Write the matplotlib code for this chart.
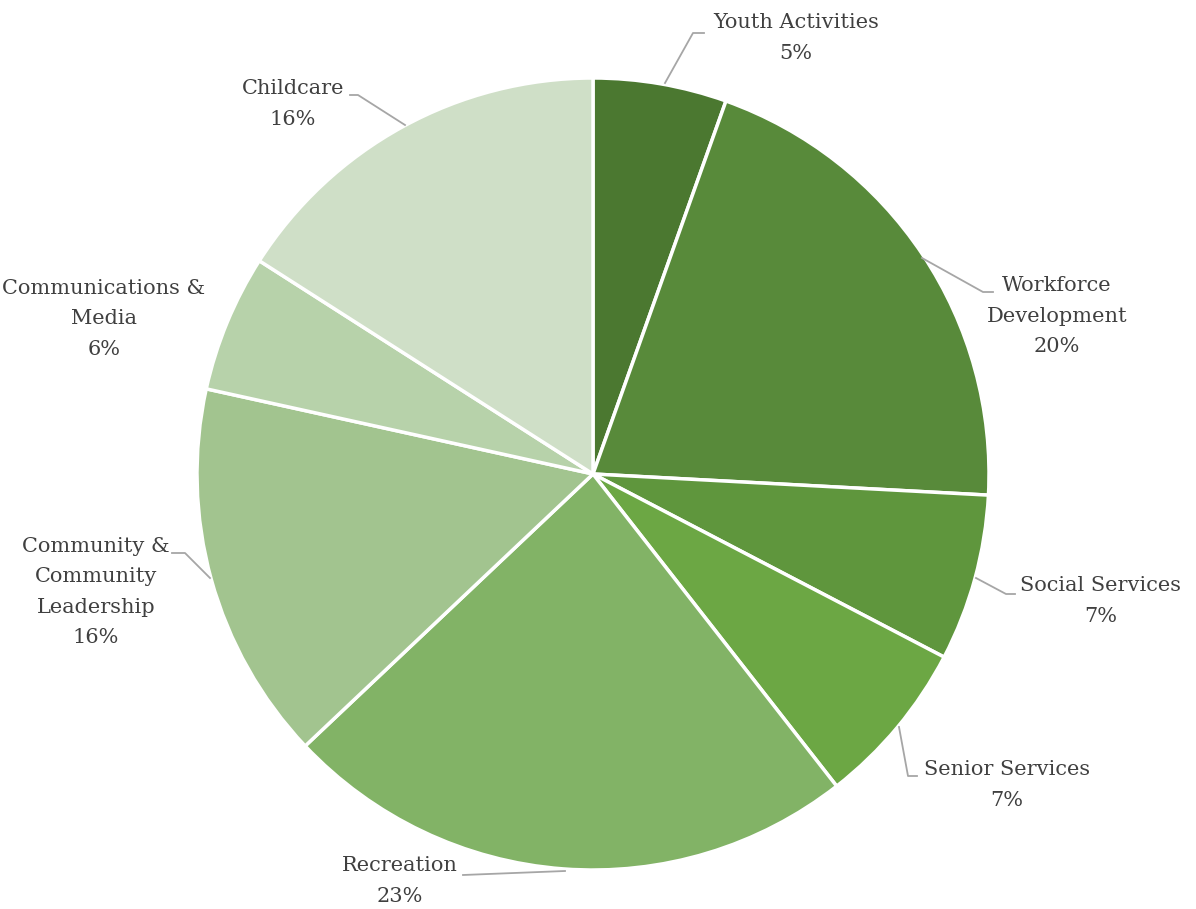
import matplotlib.pyplot as plt

# Data
categories = ["Youth Activities", "Workforce\nDevelopment", "Social Services",
              "Senior Services", "Recreation", "Community &\nCommunity\nLeadership",
              "Communications &\nMedia", "Childcare"]
shares = [5.45, 20.4, 6.8, 6.8, 23.5, 15.5, 5.6, 15.95]
pct_labels = ["5%", "20%", "7%", "7%", "23%", "16%", "6%", "16%"]

colors = ["#4b7830", "#588a3a", "#5f963d", "#6ca744", "#82b366",
          "#a2c48f", "#b7d2aa", "#cfdfc7"]

W, H = 1196, 909
cx, cy, R = 593, 474, 396

# label text centre (x, y in image pixels) and leader polyline (None = no leader)
label_pos = [(796, 38), (1057, 316), (1101, 601), (1007, 785), (400, 881),
             (96, 592), (104, 319), (293, 104)]
leaders = [
    [(665, 83), (693, 33), (704, 33)],
    [(922, 258), (983, 292), (993, 292)],
    [(976, 578), (1006, 594), (1015, 594)],
    [(899, 727), (908, 776), (917, 776)],
    [(565, 871), (463, 875)],
    [(210, 578), (185, 553), (172, 553)],
    None,
    [(405, 125), (358, 95), (350, 95)],
]

fig = plt.figure(figsize=(W / 100, H / 100), dpi=100)
ax = fig.add_axes([0, 0, 1, 1])

ax.pie(shares, colors=colors, startangle=90, counterclock=False,
       center=(cx, H - cy), radius=R,
       wedgeprops=dict(edgecolor="white", linewidth=2.5))
ax.set_xlim(0, W)
ax.set_ylim(0, H)
ax.axis("off")

for name, pct, (lx, ly), pts in zip(categories, pct_labels, label_pos, leaders):
    ax.text(lx, H - ly, name + "\n" + pct, ha="center", va="center",
            fontsize=15, family="DejaVu Serif", color="#404040",
            linespacing=1.75)
    if pts:
        ax.plot([p[0] for p in pts], [H - p[1] for p in pts],
                color="#a6a6a6", linewidth=1.3)

fig.savefig("out.png", dpi=100)
